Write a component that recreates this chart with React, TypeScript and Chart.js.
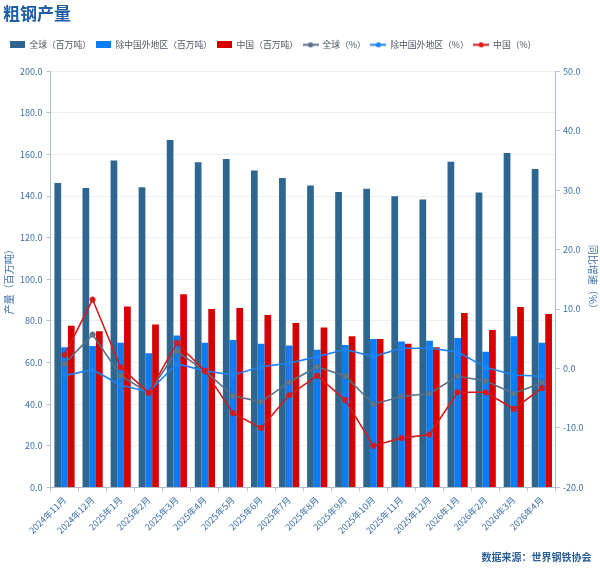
import React, { useEffect, useRef } from "react";
import { Chart, registerables } from "chart.js";

Chart.register(...registerables);

const categories = [
  "2024年11月", "2024年12月", "2025年1月", "2025年2月", "2025年3月", "2025年4月",
  "2025年5月", "2025年6月", "2025年7月", "2025年8月", "2025年9月", "2025年10月",
  "2025年11月", "2025年12月", "2026年1月", "2026年2月", "2026年3月", "2026年4月",
];

const globalOutput = [146.3, 143.9, 157.1, 144.2, 167.0, 156.2, 157.8, 152.3, 148.7, 145.1, 142.0, 143.5, 139.9, 138.4, 156.5, 141.7, 160.7, 153.0];
const exChinaOutput = [67.4, 68.0, 69.5, 64.5, 73.0, 69.5, 70.8, 69.0, 68.2, 66.1, 68.4, 71.3, 70.1, 70.5, 71.8, 65.2, 72.7, 69.5];
const chinaOutput = [77.7, 75.1, 87.0, 78.3, 92.8, 85.7, 86.2, 82.8, 79.0, 76.9, 72.7, 71.3, 69.0, 67.4, 83.8, 75.6, 86.7, 83.3];

const globalYoY = [0.8, 5.7, -1.2, -4.1, 2.9, -0.4, -4.6, -5.6, -2.3, 0.3, -1.3, -6.0, -4.7, -4.2, -1.3, -2.1, -4.2, -2.4];
const exChinaYoY = [-1.2, -0.2, -2.8, -3.9, 0.8, -0.4, -1.1, 0.3, 0.9, 2.0, 3.2, 2.0, 3.4, 3.4, 2.8, 0.2, -1.1, -1.3];
const chinaYoY = [2.3, 11.6, 0.2, -4.1, 4.3, -0.4, -7.5, -10.0, -4.5, -1.2, -5.3, -13.0, -11.7, -11.1, -4.0, -4.0, -6.8, -3.3];

const leftTicks = { min: 0, max: 200, step: 20 };
const rightTicks = { min: -20, max: 50, step: 10 };

const SOURCE_TEXT = "数据来源：世界钢铁协会";

const FONT = "'Noto Sans CJK SC', 'Noto Sans', sans-serif";
const C_GLOBAL = "#2f6690";
const C_EX = "#0a7cf5";
const C_CN = "#d60000";
const C_GLOBAL_LINE = "#56708a";
const C_EX_LINE = "#1a82f2";
const C_CN_LINE = "#d61a1a";
const AXIS_TEXT = "#3d6fa8";

function rectIcon(color: string) {
  const c = document.createElement("canvas");
  c.width = 15;
  c.height = 7;
  const ctx = c.getContext("2d")!;
  ctx.fillStyle = color;
  ctx.fillRect(0, 0, 15, 7);
  return c;
}

function lineIcon(color: string) {
  const c = document.createElement("canvas");
  c.width = 16;
  c.height = 7;
  const ctx = c.getContext("2d")!;
  ctx.strokeStyle = color;
  ctx.lineWidth = 2;
  ctx.beginPath();
  ctx.moveTo(0, 3.5);
  ctx.lineTo(16, 3.5);
  ctx.stroke();
  ctx.fillStyle = color;
  ctx.beginPath();
  ctx.arc(8, 3.5, 2.6, 0, Math.PI * 2);
  ctx.fill();
  return c;
}

export default function App() {
  const ref = useRef<HTMLCanvasElement>(null);

  useEffect(() => {
    document.body.style.margin = "0";
    if (!ref.current) return;

    const icons = [
      rectIcon(C_GLOBAL),
      rectIcon(C_EX),
      rectIcon(C_CN),
      lineIcon(C_GLOBAL_LINE),
      lineIcon(C_EX_LINE),
      lineIcon(C_CN_LINE),
    ];

    const layoutTweaks = {
      id: "layoutTweaks",
      beforeInit(chart: any) {
        const legend = chart.legend;
        if (!legend) return;
        const fit = legend.fit;
        legend.fit = function () {
          fit.call(this);
          this.height += 12;
        };
      },
      afterLayout(chart: any) {
        const sub = (chart.boxes || []).find(
          (b: any) => b && b.options && b.options.text === SOURCE_TEXT
        );
        if (sub) {
          sub.left -= 7;
          sub.right -= 7;
        }
        if (chart.legend) {
          chart.legend.left += 2;
          chart.legend.right += 2;
        }
      },
    };

    const fmt = (v: any) => Number(v).toFixed(1);

    const chart = new Chart(ref.current, {
      type: "bar",
      data: {
        labels: categories,
        datasets: [
          {
            type: "bar",
            label: "全球（百万吨）",
            data: globalOutput,
            backgroundColor: C_GLOBAL,
            yAxisID: "y",
            categoryPercentage: 0.72,
            barPercentage: 1.0,
            order: 10,
          },
          {
            type: "bar",
            label: "除中国外地区（百万吨）",
            data: exChinaOutput,
            backgroundColor: C_EX,
            yAxisID: "y",
            categoryPercentage: 0.72,
            barPercentage: 1.0,
            order: 11,
          },
          {
            type: "bar",
            label: "中国（百万吨）",
            data: chinaOutput,
            backgroundColor: C_CN,
            yAxisID: "y",
            categoryPercentage: 0.72,
            barPercentage: 1.0,
            order: 12,
          },
          {
            type: "line",
            label: "全球（%）",
            data: globalYoY,
            borderColor: C_GLOBAL_LINE,
            backgroundColor: C_GLOBAL_LINE,
            pointBackgroundColor: "#60788c",
            pointBorderColor: C_GLOBAL_LINE,
            borderWidth: 1.6,
            pointRadius: 2.6,
            pointBorderWidth: 1,
            yAxisID: "y1",
            order: 3,
          },
          {
            type: "line",
            label: "除中国外地区（%）",
            data: exChinaYoY,
            borderColor: C_EX_LINE,
            backgroundColor: C_EX_LINE,
            pointBackgroundColor: C_EX_LINE,
            pointBorderColor: C_EX_LINE,
            borderWidth: 1.6,
            pointRadius: 2.4,
            pointBorderWidth: 1,
            yAxisID: "y1",
            order: 2,
          },
          {
            type: "line",
            label: "中国（%）",
            data: chinaYoY,
            borderColor: C_CN_LINE,
            backgroundColor: C_CN_LINE,
            pointBackgroundColor: C_CN_LINE,
            pointBorderColor: C_CN_LINE,
            borderWidth: 1.6,
            pointRadius: 2.6,
            pointBorderWidth: 1,
            yAxisID: "y1",
            order: 1,
          },
        ],
      },
      options: {
        responsive: false,
        animation: false,
        layout: { padding: { left: 3, right: 1.5, top: 0, bottom: 0 } },
        font: { family: FONT },
        plugins: {
          title: {
            display: true,
            text: "粗钢产量",
            align: "start",
            color: "#1d5ea6",
            font: { family: FONT, size: 17, weight: "bold" },
            padding: { top: 3, bottom: 12 },
          },
          legend: {
            display: true,
            position: "top",
            align: "start",
            labels: {
              usePointStyle: true,
              pointStyleWidth: 15,
              boxHeight: 7,
              padding: 5,
              color: "#4a5562",
              font: { family: FONT, size: 8.8 },
              generateLabels: (ch: any) =>
                ch.data.datasets.map((ds: any, i: number) => ({
                  text: ds.label,
                  pointStyle: icons[i],
                  fillStyle: ds.backgroundColor,
                  strokeStyle: ds.borderColor,
                  lineWidth: 0,
                  hidden: false,
                  datasetIndex: i,
                  fontColor: "#4a5562",
                })),
            },
          },
          subtitle: {
            display: true,
            position: "bottom",
            align: "end",
            text: SOURCE_TEXT,
            color: "#2b5f95",
            font: { family: FONT, size: 10, weight: "bold" },
            padding: { top: 12, bottom: 7 },
          },
          tooltip: { enabled: false },
        },
        scales: {
          x: {
            offset: true,
            grid: {
              display: true,
              drawOnChartArea: false,
              drawTicks: true,
              tickLength: 4,
              tickColor: "#b7c4d2",
              offset: true,
            },
            border: { color: "#aebccb" },
            ticks: {
              color: AXIS_TEXT,
              font: { family: FONT, size: 9 },
              minRotation: 45,
              maxRotation: 45,
              autoSkip: false,
              padding: 3,
            },
          },
          y: {
            type: "linear",
            position: "left",
            min: leftTicks.min,
            max: leftTicks.max,
            ticks: {
              stepSize: leftTicks.step,
              callback: fmt,
              color: AXIS_TEXT,
              font: { family: FONT, size: 9 },
              padding: 4,
            },
            grid: {
              color: "#eceff4",
              tickColor: "#b7c4d2",
              tickLength: 4,
            },
            border: { color: "#aebccb" },
            title: {
              display: true,
              text: "产量（百万吨）",
              color: AXIS_TEXT,
              font: { family: FONT, size: 10 },
              padding: { top: 0, bottom: 1 },
            },
          },
          y1: {
            type: "linear",
            position: "right",
            min: rightTicks.min,
            max: rightTicks.max,
            ticks: {
              stepSize: rightTicks.step,
              callback: fmt,
              color: AXIS_TEXT,
              font: { family: FONT, size: 9 },
              padding: 3,
            },
            grid: {
              drawOnChartArea: false,
              tickColor: "#b7c4d2",
              tickLength: 4,
            },
            border: { color: "#aebccb" },
            title: {
              display: true,
              text: "同比增速（%）",
              color: AXIS_TEXT,
              font: { family: FONT, size: 10 },
              padding: { top: 0, bottom: 0 },
            },
          },
        },
      },
      plugins: [layoutTweaks],
    } as any);

    return () => chart.destroy();
  }, []);

  return (
    <div style={{ width: 600, height: 570 }}>
      <canvas ref={ref} width={600} height={570} />
    </div>
  );
}
